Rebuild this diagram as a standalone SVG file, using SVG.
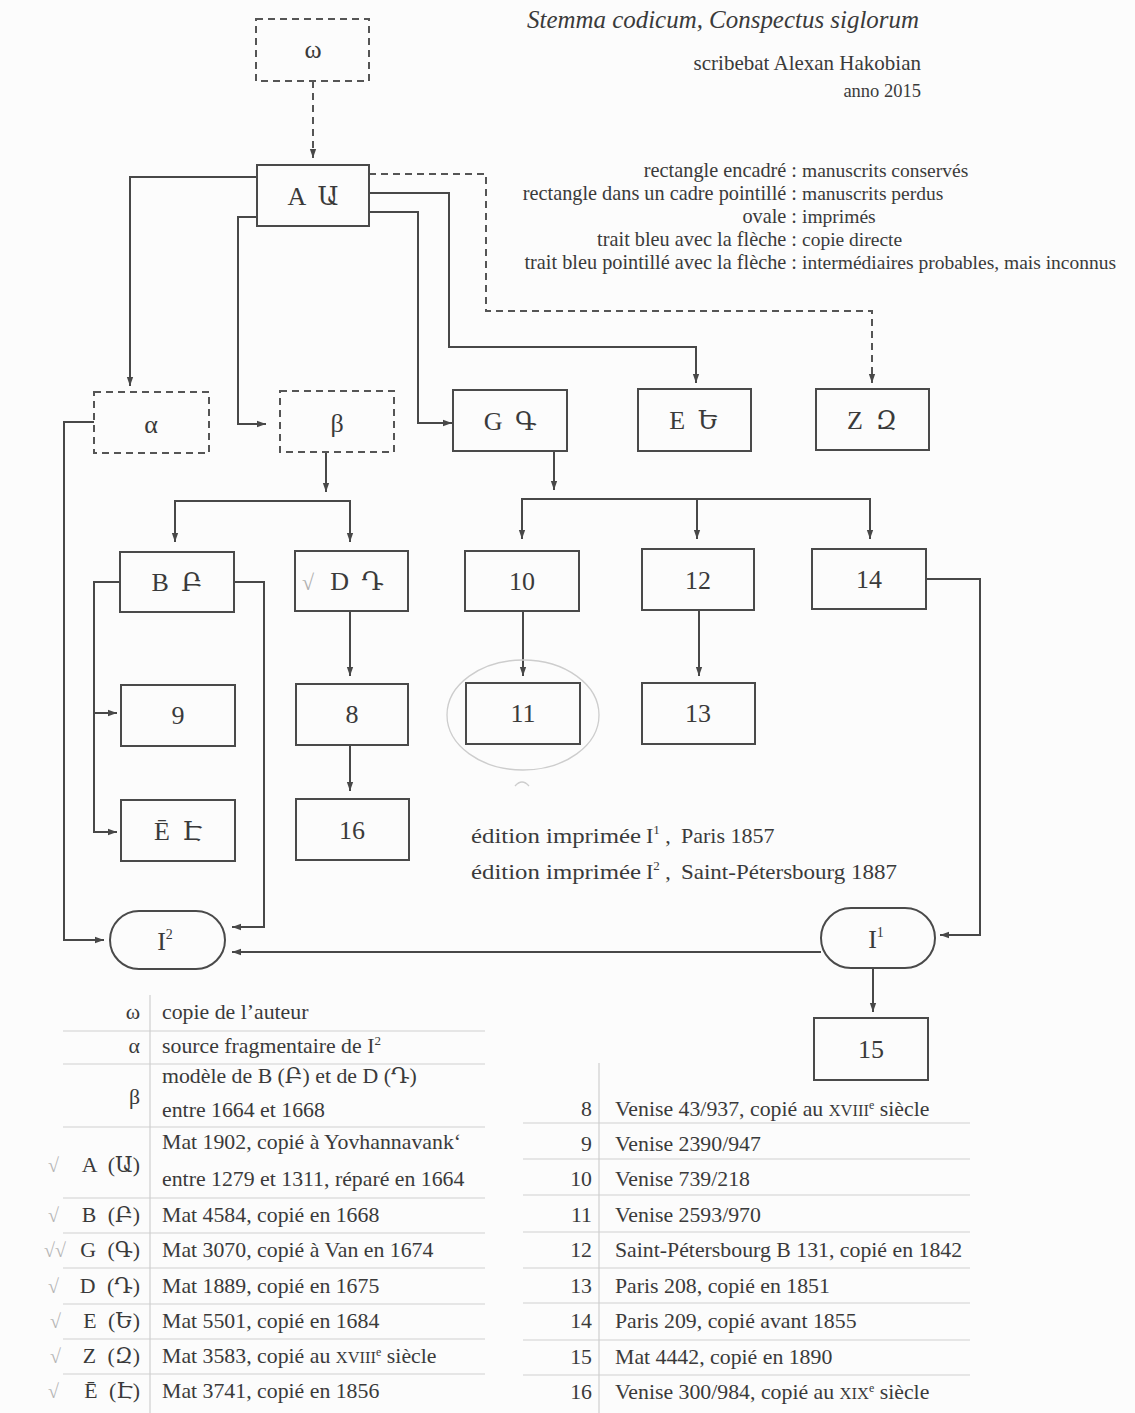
<svg xmlns="http://www.w3.org/2000/svg" width="1135" height="1413" viewBox="0 0 1135 1413">
<style>
text{font-family:"Liberation Serif","DejaVu Serif",serif;fill:#3a3a3a}
.box{fill:none;stroke:#4a4a4a;stroke-width:2}
.dbox{fill:none;stroke:#555;stroke-width:2;stroke-dasharray:7 5}
.ln{fill:none;stroke:#484848;stroke-width:2;marker-end:url(#ah)}
.dl{fill:none;stroke:#555;stroke-width:2;stroke-dasharray:7 5;marker-end:url(#ah)}
.lbl{font-size:26px;text-anchor:middle}
.lg{font-size:19.5px}
.lgr{font-size:20.3px;text-anchor:end}
.tb{font-size:21.8px}
.tbr{font-size:21.8px;text-anchor:end}
.sc{font-size:16.5px}
.rule{stroke:#cfcfcf;stroke-width:1.2}
.pencil{fill:none;stroke:#cdcdcd;stroke-width:1.3}
.chk{font-size:20px;fill:#b5b5b5}
</style>
<defs>
<marker id="ah" viewBox="0 0 10 10" refX="10" refY="5" markerWidth="9" markerHeight="9" markerUnits="userSpaceOnUse" orient="auto">
<path d="M0,1.5 L10,5 L0,8.5 Z" fill="#484848"/>
</marker>
</defs>
<rect x="0" y="0" width="1135" height="1413" fill="#fcfcfc"/>

<g id="header">
<text x="527" y="28" font-size="26" font-style="italic" textLength="392" lengthAdjust="spacingAndGlyphs">Stemma codicum, Conspectus siglorum</text>
<text x="921" y="70" font-size="21" text-anchor="end">scribebat Alexan Hakobian</text>
<text x="921" y="97" font-size="18.5" text-anchor="end">anno 2015</text>
</g>

<g id="legend">
<text class="lgr" x="797" y="177">rectangle encadré :</text>
<text class="lgr" x="797" y="200">rectangle dans un cadre pointillé :</text>
<text class="lgr" x="797" y="223">ovale :</text>
<text class="lgr" x="797" y="246">trait bleu avec la flèche :</text>
<text class="lgr" x="797" y="269">trait bleu pointillé avec la flèche :</text>
<text class="lg" x="802" y="177">manuscrits conservés</text>
<text class="lg" x="802" y="200">manuscrits perdus</text>
<text class="lg" x="802" y="223">imprimés</text>
<text class="lg" x="802" y="246">copie directe</text>
<text class="lg" x="802" y="269">intermédiaires probables, mais inconnus</text>
</g>

<g id="connectors">
<path class="dl" d="M313,81 V158"/>
<path class="ln" d="M257,177 H130 V386"/>
<path class="ln" d="M257,217 H238 V424 H266"/>
<path class="ln" d="M369,212 H418 V423 H452"/>
<path class="ln" d="M369,193 H449 V347 H696 V383"/>
<path class="dl" d="M369,174 H486 V311 H872 V383"/>
<path class="ln" d="M326,453 V492"/>
<path class="ln" d="M326,501 H175 V542"/>
<path class="ln" d="M326,501 H350 V542"/>
<path class="ln" d="M554,451 V490"/>
<path class="ln" d="M697,499 H522 V539"/>
<path class="ln" d="M697,499 V539"/>
<path class="ln" d="M697,499 H870 V539"/>
<path class="ln" d="M120,582 H94 V832 H117"/>
<path class="ln" d="M94,713 H117"/>
<path class="ln" d="M234,582 H264 V927 H232"/>
<path class="ln" d="M94,422 H64 V940 H104"/>
<path class="ln" d="M350,611 V676"/>
<path class="ln" d="M350,745 V791"/>
<path class="ln" d="M523,611 V676"/>
<path class="ln" d="M699,610 V676"/>
<path class="ln" d="M926,579 H980 V935 H940"/>
<path class="ln" d="M821,952 H232"/>
<path class="ln" d="M873,968 V1012"/>
</g>

<g id="n-omega"><rect class="dbox" x="256" y="19" width="113" height="62"/><text class="lbl" x="313" y="58">ω</text></g>
<g id="n-A"><rect class="box" x="257" y="165" width="112" height="61"/><text class="lbl" x="313" y="205" word-spacing="6">A Ա</text></g>
<g id="n-alpha"><rect class="dbox" x="94" y="392" width="115" height="61"/><text class="lbl" x="151" y="433" font-size="30">α</text></g>
<g id="n-beta"><rect class="dbox" x="280" y="391" width="114" height="61"/><text class="lbl" x="337" y="432" font-size="30">β</text></g>
<g id="n-G"><rect class="box" x="453" y="390" width="114" height="61"/><text class="lbl" x="510" y="430" word-spacing="6">G Գ</text></g>
<g id="n-E"><rect class="box" x="638" y="389" width="113" height="62"/><text class="lbl" x="694" y="429" word-spacing="6">E Ե</text></g>
<g id="n-Z"><rect class="box" x="816" y="389" width="113" height="61"/><text class="lbl" x="872" y="429" word-spacing="6">Z Զ</text></g>
<g id="n-B"><rect class="box" x="120" y="552" width="114" height="60"/><text class="lbl" x="177" y="591" word-spacing="6">B Բ</text></g>
<g id="n-D"><rect class="box" x="295" y="551" width="113" height="60"/><text x="302" y="590" font-size="22" style="fill:#b0b0b0">√</text><text class="lbl" x="357" y="590" word-spacing="6">D Դ</text></g>
<g id="n-10"><rect class="box" x="465" y="551" width="114" height="60"/><text class="lbl" x="522" y="590">10</text></g>
<g id="n-12"><rect class="box" x="642" y="549" width="112" height="61"/><text class="lbl" x="698" y="589">12</text></g>
<g id="n-14"><rect class="box" x="812" y="549" width="114" height="60"/><text class="lbl" x="869" y="588">14</text></g>
<g id="n-9"><rect class="box" x="121" y="685" width="114" height="61"/><text class="lbl" x="178" y="724">9</text></g>
<g id="n-8"><rect class="box" x="296" y="684" width="112" height="61"/><text class="lbl" x="352" y="723">8</text></g>
<g id="n-11"><rect class="box" x="466" y="683" width="114" height="61"/><text class="lbl" x="523" y="722">11</text></g>
<g id="n-13"><rect class="box" x="642" y="683" width="113" height="61"/><text class="lbl" x="698" y="722">13</text></g>
<g id="n-Ebar"><rect class="box" x="121" y="800" width="114" height="61"/><text class="lbl" x="178" y="840" word-spacing="6">Ē Է</text></g>
<g id="n-16"><rect class="box" x="296" y="799" width="113" height="61"/><text class="lbl" x="352" y="839">16</text></g>
<g id="n-I2"><rect class="box" x="110" y="911" width="115" height="58" rx="29"/><text class="lbl" x="165" y="950">I<tspan font-size="14" dy="-11">2</tspan></text></g>
<g id="n-I1"><rect class="box" x="821" y="908" width="114" height="60" rx="30"/><text class="lbl" x="876" y="948">I<tspan font-size="14" dy="-11">1</tspan></text></g>
<g id="n-15"><rect class="box" x="814" y="1018" width="114" height="62"/><text class="lbl" x="871" y="1058">15</text></g>

<g id="pencil">
<ellipse class="pencil" cx="523" cy="715" rx="76" ry="55"/>
<path class="pencil" d="M515,786 Q522,778 529,786"/>
</g>

<g id="editions">
<text x="471" y="843" font-size="22" textLength="170" lengthAdjust="spacingAndGlyphs">édition imprimée</text>
<text x="646" y="843" font-size="22">I<tspan font-size="13" dy="-9">1</tspan><tspan dy="9"> ,</tspan></text>
<text x="681" y="843" font-size="22">Paris 1857</text>
<text x="471" y="879" font-size="22" textLength="170" lengthAdjust="spacingAndGlyphs">édition imprimée</text>
<text x="646" y="879" font-size="22">I<tspan font-size="13" dy="-9">2</tspan><tspan dy="9"> ,</tspan></text>
<text x="681" y="879" font-size="22" textLength="216" lengthAdjust="spacingAndGlyphs">Saint-Pétersbourg 1887</text>
</g>

<g id="table-left">
<line class="rule" x1="150" y1="995" x2="150" y2="1413"/>
<line class="rule" x1="63" y1="1031" x2="485" y2="1031"/>
<line class="rule" x1="63" y1="1064" x2="485" y2="1064"/>
<line class="rule" x1="63" y1="1127" x2="485" y2="1127"/>
<line class="rule" x1="63" y1="1198" x2="485" y2="1198"/>
<line class="rule" x1="63" y1="1233" x2="485" y2="1233"/>
<line class="rule" x1="63" y1="1268" x2="485" y2="1268"/>
<line class="rule" x1="63" y1="1304" x2="485" y2="1304"/>
<line class="rule" x1="63" y1="1339" x2="485" y2="1339"/>
<line class="rule" x1="63" y1="1374" x2="485" y2="1374"/>
<text class="tbr" x="140" y="1019">ω</text>
<text class="tbr" x="140" y="1053">α</text>
<text class="tbr" x="140" y="1104" font-size="26">β</text>
<text class="tbr" x="140" y="1172" word-spacing="6">A (Ա)</text>
<text class="tbr" x="140" y="1222" word-spacing="6">B (Բ)</text>
<text class="tbr" x="140" y="1257" word-spacing="6">G (Գ)</text>
<text class="tbr" x="140" y="1293" word-spacing="6">D (Դ)</text>
<text class="tbr" x="140" y="1328" word-spacing="6">E (Ե)</text>
<text class="tbr" x="140" y="1363" word-spacing="6">Z (Զ)</text>
<text class="tbr" x="140" y="1398" word-spacing="6">Ē (Է)</text>
<text class="tb" x="162" y="1019">copie de l’auteur</text>
<text class="tb" x="162" y="1053">source fragmentaire de I<tspan font-size="13" dy="-8">2</tspan></text>
<text class="tb" x="162" y="1083">modèle de B (Բ) et de D (Դ)</text>
<text class="tb" x="162" y="1117">entre 1664 et 1668</text>
<text class="tb" x="162" y="1149">Mat 1902, copié à Yovhannavank‘</text>
<text class="tb" x="162" y="1186">entre 1279 et 1311, réparé en 1664</text>
<text class="tb" x="162" y="1222">Mat 4584, copié en 1668</text>
<text class="tb" x="162" y="1257">Mat 3070, copié à Van en 1674</text>
<text class="tb" x="162" y="1293">Mat 1889, copié en 1675</text>
<text class="tb" x="162" y="1328">Mat 5501, copié en 1684</text>
<text class="tb" x="162" y="1363">Mat 3583, copié au <tspan class="sc">XVIII</tspan><tspan font-size="12" dy="-7">e</tspan><tspan dy="7"> siècle</tspan></text>
<text class="tb" x="162" y="1398">Mat 3741, copié en 1856</text>
<text class="chk" x="48" y="1172">√</text>
<text class="chk" x="48" y="1222">√</text>
<text class="chk" x="44" y="1257">√√</text>
<text class="chk" x="48" y="1293">√</text>
<text class="chk" x="50" y="1328">√</text>
<text class="chk" x="50" y="1363">√</text>
<text class="chk" x="48" y="1398">√</text>
</g>

<g id="table-right">
<line class="rule" x1="599" y1="1063" x2="599" y2="1413"/>
<line class="rule" x1="523" y1="1123" x2="970" y2="1123"/>
<line class="rule" x1="523" y1="1159" x2="970" y2="1159"/>
<line class="rule" x1="523" y1="1195" x2="970" y2="1195"/>
<line class="rule" x1="523" y1="1232" x2="970" y2="1232"/>
<line class="rule" x1="523" y1="1268" x2="970" y2="1268"/>
<line class="rule" x1="523" y1="1303" x2="970" y2="1303"/>
<line class="rule" x1="523" y1="1340" x2="970" y2="1340"/>
<line class="rule" x1="523" y1="1375" x2="970" y2="1375"/>
<text class="tbr" x="592" y="1116">8</text>
<text class="tbr" x="592" y="1151">9</text>
<text class="tbr" x="592" y="1186">10</text>
<text class="tbr" x="592" y="1222">11</text>
<text class="tbr" x="592" y="1257">12</text>
<text class="tbr" x="592" y="1293">13</text>
<text class="tbr" x="592" y="1328">14</text>
<text class="tbr" x="592" y="1364">15</text>
<text class="tbr" x="592" y="1399">16</text>
<text class="tb" x="615" y="1116">Venise 43/937, copié au <tspan class="sc">XVIII</tspan><tspan font-size="12" dy="-7">e</tspan><tspan dy="7"> siècle</tspan></text>
<text class="tb" x="615" y="1151">Venise 2390/947</text>
<text class="tb" x="615" y="1186">Venise 739/218</text>
<text class="tb" x="615" y="1222">Venise 2593/970</text>
<text class="tb" x="615" y="1257">Saint-Pétersbourg B 131, copié en 1842</text>
<text class="tb" x="615" y="1293">Paris 208, copié en 1851</text>
<text class="tb" x="615" y="1328">Paris 209, copié avant 1855</text>
<text class="tb" x="615" y="1364">Mat 4442, copié en 1890</text>
<text class="tb" x="615" y="1399">Venise 300/984, copié au <tspan class="sc">XIX</tspan><tspan font-size="12" dy="-7">e</tspan><tspan dy="7"> siècle</tspan></text>
</g>
</svg>
